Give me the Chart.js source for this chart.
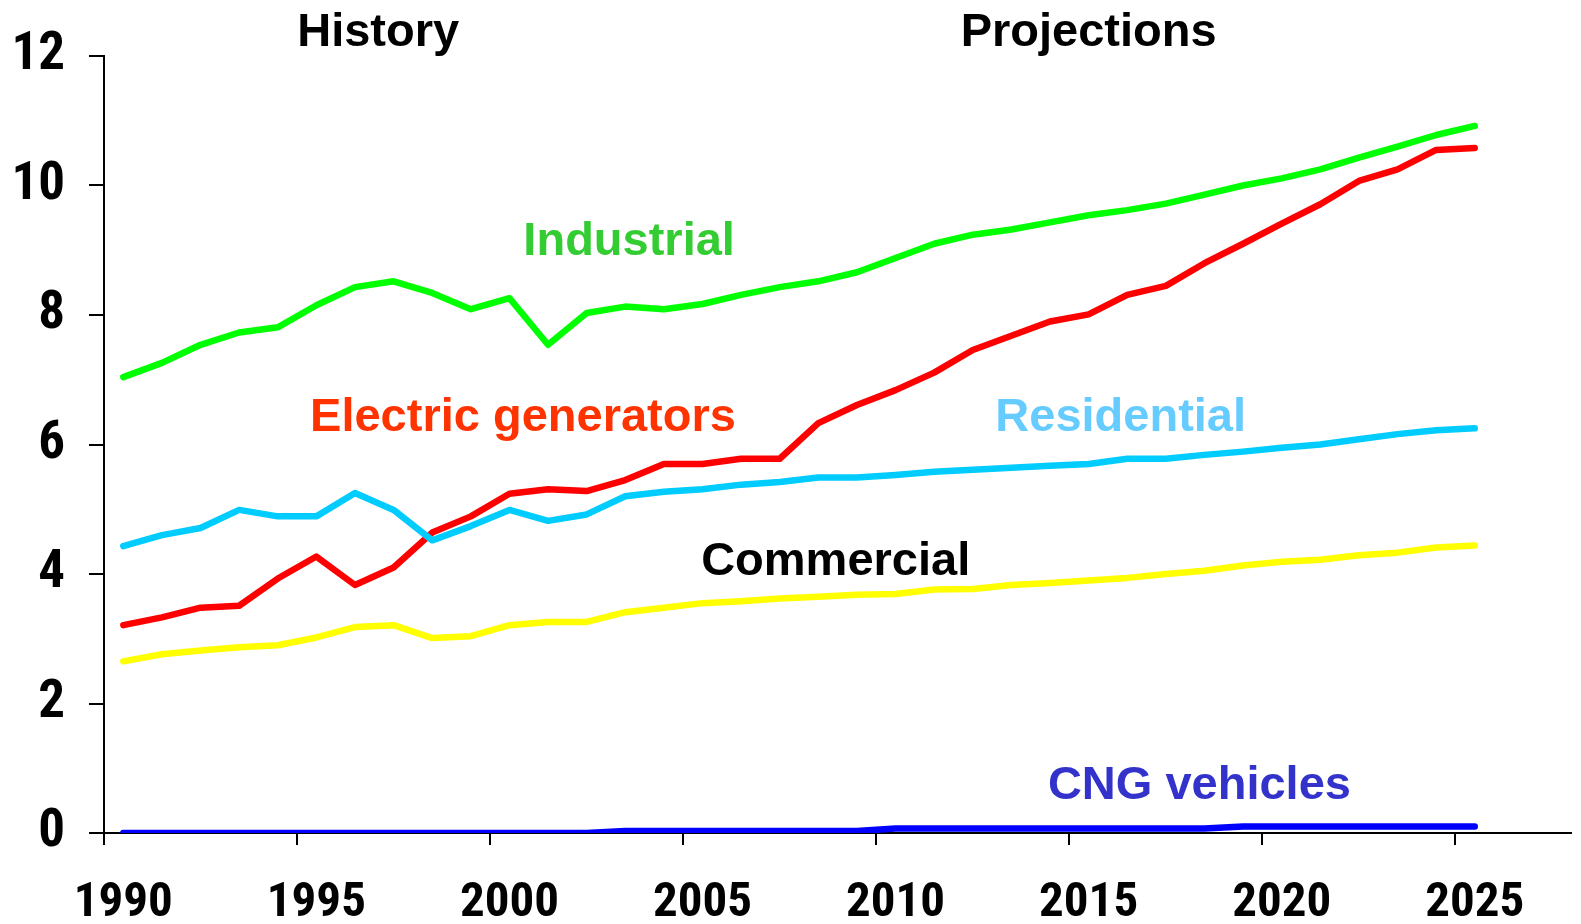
<!DOCTYPE html>
<html>
<head>
<meta charset="utf-8">
<script src="https://cdn.jsdelivr.net/npm/chart.js@4"></script>
<style>
  html, body { margin: 0; padding: 0; background: #ffffff; }
  #wrap { width: 1581px; height: 924px; position: relative; }
</style>
</head>
<body>
<div id="wrap"><canvas id="c" width="1581" height="924"></canvas></div>
<script>
// ---- data ----
const years = [];
for (let y = 1990; y <= 2027; y++) years.push(y);

const industrial = [7.04, 7.26, 7.54, 7.73, 7.81, 8.15, 8.43, 8.52, 8.34, 8.09,
  8.26, 7.54, 8.03, 8.13, 8.09, 8.17, 8.31, 8.43, 8.52, 8.66,
  8.88, 9.10, 9.24, 9.32, 9.43, 9.54, 9.62, 9.72, 9.86, 10.00,
  10.11, 10.25, 10.43, 10.60, 10.78, 10.92];
const electric = [3.21, 3.33, 3.48, 3.51, 3.93, 4.27, 3.83, 4.10, 4.64, 4.89,
  5.24, 5.31, 5.28, 5.45, 5.70, 5.70, 5.78, 5.78, 6.33, 6.61,
  6.84, 7.11, 7.46, 7.68, 7.90, 8.01, 8.31, 8.45, 8.80, 9.10,
  9.41, 9.71, 10.07, 10.25, 10.55, 10.58];
const residential = [4.43, 4.60, 4.71, 4.99, 4.89, 4.89, 5.25, 4.99, 4.52, 4.74,
  4.99, 4.82, 4.92, 5.20, 5.27, 5.31, 5.38, 5.42, 5.49, 5.49,
  5.53, 5.58, 5.61, 5.64, 5.67, 5.70, 5.78, 5.78, 5.84, 5.89,
  5.95, 6.00, 6.08, 6.16, 6.22, 6.25];
const commercial = [2.65, 2.76, 2.82, 2.87, 2.90, 3.02, 3.18, 3.21, 3.01, 3.04,
  3.21, 3.26, 3.26, 3.41, 3.48, 3.55, 3.58, 3.62, 3.65, 3.68,
  3.69, 3.76, 3.77, 3.83, 3.86, 3.90, 3.94, 4.00, 4.05, 4.13,
  4.19, 4.22, 4.29, 4.33, 4.41, 4.44];
const cng = [0, 0, 0, 0, 0, 0, 0, 0, 0, 0,
  0, 0, 0, 0.03, 0.03, 0.03, 0.03, 0.03, 0.03, 0.03,
  0.07, 0.07, 0.07, 0.07, 0.07, 0.07, 0.07, 0.07, 0.07, 0.1,
  0.1, 0.1, 0.1, 0.1, 0.1, 0.1];

const yTicks = [0, 2, 4, 6, 8, 10, 12];

// annotation texts: [text, year (left-edge based), value baseline, color]
const notes = [
  ["History", 1997.1, 12.16, "#000000"],
  ["Projections", 2015.5, 12.16, "#000000"],
  ["Industrial", 2003.6, 8.93, "#33cc33"],
  ["Electric generators", 2000.85, 6.21, "#ff3300"],
  ["Residential", 2016.33, 6.21, "#66ccff"],
  ["Commercial", 2008.95, 3.99, "#000000"],
  ["CNG vehicles", 2018.37, 0.53, "#3333cc"]
];

const narrow = '"Liberation Sans Narrow", "Arial Narrow", "Roboto Condensed", "Liberation Sans", Arial, sans-serif';

const notesPlugin = {
  id: 'notes',
  afterDatasetsDraw(chart) {
    const ctx = chart.ctx;
    const xs = chart.scales.x, ys = chart.scales.y;
    ctx.save();
    ctx.font = 'bold 47px "Liberation Sans", Arial, sans-serif';
    ctx.textAlign = 'center';
    ctx.textBaseline = 'alphabetic';
    notes.forEach(n => {
      ctx.fillStyle = n[3];
      ctx.fillText(n[0], xs.getPixelForValue(n[1] - years[0] - 0.5), ys.getPixelForValue(n[2]));
    });
    ctx.restore();
  }
};

function ds(label, data, color) {
  return {
    label, data,
    borderColor: color,
    backgroundColor: color,
    borderWidth: 6.5,
    pointRadius: 0,
    tension: 0,
    fill: false,
    borderCapStyle: 'round',
    borderJoinStyle: 'round'
  };
}

new Chart(document.getElementById('c'), {
  type: 'line',
  data: {
    labels: years,
    datasets: [
      ds('CNG vehicles', cng, '#0000ff'),
      ds('Commercial', commercial, '#ffff00'),
      ds('Residential', residential, '#00ccff'),
      ds('Electric generators', electric, '#ff0000'),
      ds('Industrial', industrial, '#00ff00')
    ]
  },
  options: {
    responsive: false,
    animation: false,
    devicePixelRatio: 1,
    layout: { padding: { left: 0, right: 2, top: 56, bottom: 0 } },
    plugins: { legend: { display: false }, tooltip: { enabled: false } },
    scales: {
      x: {
        type: 'category',
        offset: true,
        grid: {
          offset: true,
          drawOnChartArea: false,
          drawTicks: true,
          tickLength: 12,
          lineWidth: 2,
          color: c => (c.index !== undefined && c.index % 5 === 0) ? '#000000' : 'rgba(0,0,0,0)',
          tickColor: c => (c.index !== undefined && c.index % 5 === 0) ? '#000000' : 'rgba(0,0,0,0)'
        },
        border: { display: true, color: '#000000', width: 2 },
        ticks: {
          autoSkip: false,
          maxRotation: 0,
          minRotation: 0,
          padding: 29,
          color: '#000000',
          font: { family: narrow, size: 49, weight: 'bold' },
          callback: function(v, i) { return i % 5 === 0 ? String(years[i]) : ''; }
        },
        afterFit: s => { s.height = 91; }
      },
      y: {
        min: 0, max: 12,
        afterBuildTicks: s => { s.ticks = yTicks.map(v => ({ value: v })); },
        grid: {
          drawOnChartArea: false,
          drawTicks: true,
          tickLength: 15,
          lineWidth: 2,
          color: '#000000',
          tickColor: '#000000'
        },
        border: { display: true, color: '#000000', width: 2 },
        ticks: {
          padding: 24,
          color: '#000000',
          font: { family: narrow, size: 53, weight: 'bold' }
        },
        afterFit: s => { s.width = 104; }
      }
    }
  },
  plugins: [notesPlugin]
});
</script>
</body>
</html>
